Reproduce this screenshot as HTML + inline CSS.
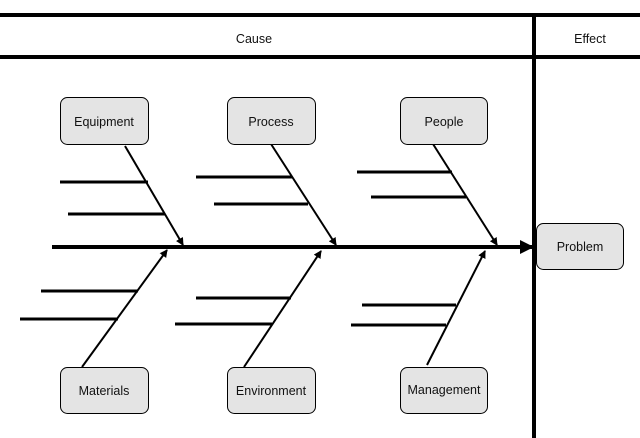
<!DOCTYPE html>
<html><head><style>
html,body{margin:0;padding:0;background:#fff;width:640px;height:438px;overflow:hidden}
svg text{font-family:"Liberation Sans",sans-serif;font-size:12.5px;fill:#111}
</style></head><body>
<svg width="640" height="438" viewBox="0 0 640 438" xmlns="http://www.w3.org/2000/svg">
<defs>
<marker id="a" markerWidth="8" markerHeight="8" refX="7" refY="4" orient="auto" markerUnits="userSpaceOnUse">
<path d="M0,0 L8,4 L0,8 z" fill="#000"/></marker>
<marker id="b" markerWidth="14" markerHeight="14" refX="13" refY="7" orient="auto" markerUnits="userSpaceOnUse">
<path d="M0,0 L14,7 L0,14 z" fill="#000"/></marker>
</defs>
<g stroke="#000">
<line x1="0" y1="15" x2="640" y2="15" stroke-width="4"/>
<line x1="0" y1="57" x2="640" y2="57" stroke-width="4"/>
<line x1="534" y1="15" x2="534" y2="438" stroke-width="4"/>
<line x1="52" y1="247" x2="533" y2="247" stroke-width="4" marker-end="url(#b)"/>
<g stroke-width="2">
<line x1="125" y1="146" x2="183" y2="245" marker-end="url(#a)"/>
<line x1="271" y1="144" x2="336" y2="245" marker-end="url(#a)"/>
<line x1="433" y1="144" x2="497" y2="245" marker-end="url(#a)"/>
<line x1="82" y1="367" x2="167" y2="250" marker-end="url(#a)"/>
<line x1="244" y1="367" x2="321" y2="251" marker-end="url(#a)"/>
<line x1="427" y1="365" x2="485" y2="251" marker-end="url(#a)"/>
</g>
<g stroke-width="3">
<line x1="60" y1="182" x2="148" y2="182"/>
<line x1="68" y1="214" x2="165" y2="214"/>
<line x1="196" y1="177" x2="292" y2="177"/>
<line x1="214" y1="204" x2="308" y2="204"/>
<line x1="357" y1="172" x2="452" y2="172"/>
<line x1="371" y1="197" x2="466" y2="197"/>
<line x1="41" y1="291" x2="138" y2="291"/>
<line x1="20" y1="319" x2="118" y2="319"/>
<line x1="196" y1="298" x2="291" y2="298"/>
<line x1="175" y1="324" x2="272" y2="324"/>
<line x1="362" y1="305" x2="456" y2="305"/>
<line x1="351" y1="325" x2="446" y2="325"/>
</g>
<g fill="#e4e4e4" stroke-width="1">
<rect x="60.5" y="97.5" width="88" height="47" rx="7"/>
<rect x="227.5" y="97.5" width="88" height="47" rx="7"/>
<rect x="400.5" y="97.5" width="87" height="47" rx="7"/>
<rect x="60.5" y="367.5" width="88" height="46" rx="7"/>
<rect x="227.5" y="367.5" width="88" height="46" rx="7"/>
<rect x="400.5" y="367.5" width="87" height="46" rx="7"/>
<rect x="536.5" y="223.5" width="87" height="46" rx="7"/>
</g>
</g>
<g text-anchor="middle">
<text x="254" y="43">Cause</text>
<text x="590" y="43">Effect</text>
<text x="104" y="126">Equipment</text>
<text x="271" y="126">Process</text>
<text x="444" y="126">People</text>
<text x="104" y="395">Materials</text>
<text x="271" y="395">Environment</text>
<text x="444" y="394">Management</text>
<text x="580" y="251">Problem</text>
</g>
</svg>
</body></html>
